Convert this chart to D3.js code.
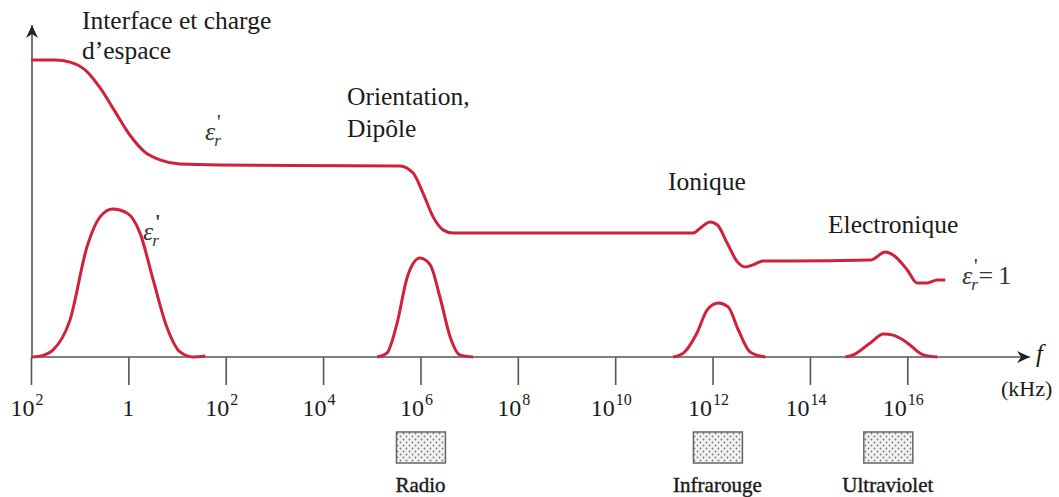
<!DOCTYPE html>
<html>
<head>
<meta charset="utf-8">
<script src="https://cdn.jsdelivr.net/npm/d3@7"></script>
<style>
  body { margin: 0; background: #fff; }
</style>
</head>
<body>
<div class="chart"></div>
<script>
// exponent of f (kHz) and relative height of the curves
var epsRealExp = [-2.0, -1.5, -1.2, -0.89, -0.58, -0.27, 0.03, 0.34, 0.65, 1.06, 1.88, 5.58, 5.85, 6.05, 6.26, 6.47, 6.67, 7.64,
  11.6, 11.75, 11.95, 12.1, 12.3, 12.51, 12.67, 12.83, 13.04, 13.6, 15.24, 15.55, 15.71, 16.0, 16.2, 16.41, 16.62, 16.78];
var epsRealVal = [9.9, 9.9, 9.83, 9.57, 8.97, 8.17, 7.4, 6.83, 6.57, 6.43, 6.4, 6.37, 6.13, 5.47, 4.67, 4.23, 4.13, 4.13,
  4.13, 4.3, 4.5, 4.4, 3.8, 3.17, 3.0, 3.07, 3.2, 3.2, 3.23, 3.5, 3.4, 2.9, 2.47, 2.47, 2.57, 2.57];

// epsilon'' : four separate loss peaks
var lossExp = [
  [-1.98, -1.81, -1.55, -1.2, -0.85, -0.58, -0.32, -0.03, 0.24, 0.51, 0.79, 1.06, 1.33, 1.58],
  [5.11, 5.31, 5.52, 5.73, 5.99, 6.2, 6.4, 6.61, 6.81, 7.08],
  [11.19, 11.4, 11.68, 11.89, 12.12, 12.32, 12.53, 12.77, 13.08],
  [14.73, 14.89, 15.24, 15.51, 15.71, 16.0, 16.33, 16.62]
];
var lossVal = [
  [0, 0.03, 0.23, 1.23, 3.67, 4.67, 4.93, 4.8, 4.13, 2.57, 1.0, 0.17, 0, 0.03],
  [0, 0.13, 1.13, 2.67, 3.3, 3.07, 2.0, 0.67, 0.07, 0],
  [0, 0.13, 0.8, 1.57, 1.8, 1.67, 0.9, 0.17, 0],
  [0, 0.07, 0.47, 0.77, 0.73, 0.47, 0.07, 0]
];

var tickExps = [-2, 0, 2, 4, 6, 8, 10, 12, 14, 16];
var tickBase = ["10", "1", "10", "10", "10", "10", "10", "10", "10", "10"];
var tickSup = ["2", "", "2", "4", "6", "8", "10", "12", "14", "16"];

var bandNames = ["Radio", "Infrarouge", "Ultraviolet"];
var bandExp = [6, 12.1, 15.6];

var svgWidth = 1059, svgHeight = 497;
var axisY = 357, axisX = 31;
var red = "#d0213b", axisCol = "#555", ink = "#1a1a1a";
var serif = "'Liberation Serif', 'Times New Roman', 'DejaVu Serif', serif";

var svg = d3.select(".chart").append("svg")
  .attr("width", svgWidth)
  .attr("height", svgHeight)
  .attr("font-family", serif)
  .style("font-family", serif);

var x = d3.scaleLinear().domain([-2, 18.5]).range([axisX, 1029]);
var y = d3.scaleLinear().domain([0, 10]).range([axisY, 57]);

// dotted fill for the band boxes
var defs = svg.append("defs");
var pat = defs.append("pattern")
  .attr("id", "dots")
  .attr("width", 6).attr("height", 6)
  .attr("patternUnits", "userSpaceOnUse");
pat.append("rect").attr("width", 6).attr("height", 6).attr("fill", "#f2f2f2");
pat.append("circle").attr("cx", 1.5).attr("cy", 1.5).attr("r", 0.9).attr("fill", "#777");
pat.append("circle").attr("cx", 4.5).attr("cy", 4.5).attr("r", 0.9).attr("fill", "#777");

defs.append("marker")
  .attr("id", "arrow")
  .attr("viewBox", "-14 -8 16 16")
  .attr("refX", 0).attr("refY", 0)
  .attr("markerWidth", 16).attr("markerHeight", 16)
  .attr("markerUnits", "userSpaceOnUse")
  .attr("orient", "auto")
  .append("path")
  .attr("d", "M-13,-6 L0,0 L-13,6 L-9,0 Z")
  .attr("fill", "#222");

// axes with arrows
svg.append("line")
  .attr("x1", axisX + 1).attr("y1", axisY).attr("x2", axisX + 1).attr("y2", 25)
  .attr("stroke", axisCol).attr("stroke-width", 1.6)
  .attr("marker-end", "url(#arrow)");
svg.append("line")
  .attr("x1", axisX).attr("y1", axisY).attr("x2", 1030).attr("y2", axisY)
  .attr("stroke", axisCol).attr("stroke-width", 1.6)
  .attr("marker-end", "url(#arrow)");

// ticks
var xAxis = d3.axisBottom(x).tickValues(tickExps).tickSize(28).tickFormat("");
var gx = svg.append("g").attr("transform", `translate(0,${axisY})`).call(xAxis);
gx.select(".domain").remove();
gx.selectAll(".tick line").attr("stroke", axisCol).attr("stroke-width", 1.6);

var labels = svg.append("g").selectAll("text")
  .data(tickExps)
  .enter()
  .append("text")
  .attr("x", (d, i) => x(d) + (tickSup[i] ? -4 : 0))
  .attr("y", 416)
  .attr("text-anchor", "middle")
  .attr("fill", ink)
  .attr("font-size", 24);
labels.append("tspan").text((d, i) => tickBase[i]);
labels.append("tspan")
  .attr("font-size", 16)
  .attr("dy", -11)
  .attr("dx", 1)
  .text((d, i) => tickSup[i]);

// curves
var line = d3.line()
  .x(d => x(d[0]))
  .y(d => y(d[1]))
  .curve(d3.curveMonotoneX);

svg.append("path")
  .datum(epsRealExp.map((e, i) => [e, epsRealVal[i]]))
  .attr("d", line)
  .attr("fill", "none")
  .attr("stroke", red)
  .attr("stroke-width", 3);

svg.selectAll(".loss")
  .data(lossExp.map((xs, k) => xs.map((e, i) => [e, lossVal[k][i]])))
  .enter()
  .append("path")
  .attr("class", "loss")
  .attr("d", line)
  .attr("fill", "none")
  .attr("stroke", red)
  .attr("stroke-width", 3);

// annotations
function addText(tx, ty, str, size) {
  svg.append("text").attr("x", tx).attr("y", ty)
    .attr("fill", ink)
    .attr("font-size", size || 25.5).text(str);
}
addText(82, 29, "Interface et charge");
addText(82, 59, "d\u2019espace");
addText(347, 105, "Orientation,");
addText(347, 137, "Dipôle");
addText(668, 190, "Ionique");
addText(828, 233, "Electronique");

function epsLabel(tx, ty, heavy, rest) {
  var t = svg.append("text").attr("x", tx).attr("y", ty)
    .attr("fill", "#333")
    .attr("font-size", 26).attr("font-style", "italic");
  t.append("tspan").text("\u03b5");
  t.append("tspan").attr("font-size", 17).attr("dy", 6).attr("dx", -1).text("r");
  t.append("tspan").attr("font-size", 20).attr("font-style", "normal")
    .attr("font-weight", heavy ? "bold" : "normal")
    .attr("dy", -17).attr("dx", -4).text("'");
  if (rest) {
    t.append("tspan").attr("font-style", "normal").attr("dy", 11).attr("dx", 1).text("=\u20091");
  }
}
epsLabel(205, 140, false);
epsLabel(143, 240, true);
epsLabel(962, 284, false, true);

svg.append("text").attr("x", 1036).attr("y", 362).attr("font-size", 25)
  .attr("fill", ink)
  .attr("font-style", "italic").text("f");
svg.append("text").attr("x", 1001).attr("y", 396).attr("font-size", 22)
  .attr("fill", ink).text("(kHz)");

// bands under the axis
var bands = svg.append("g").selectAll("g")
  .data(bandNames)
  .enter()
  .append("g");
bands.append("rect")
  .attr("x", (d, i) => x(bandExp[i]) - 24)
  .attr("y", 432)
  .attr("width", 49)
  .attr("height", 31)
  .attr("fill", "url(#dots)")
  .attr("stroke", "#666")
  .attr("stroke-width", 1.5);
bands.append("text")
  .attr("x", (d, i) => x(bandExp[i]))
  .attr("y", 492)
  .attr("text-anchor", "middle")
  .attr("font-size", 21)
  .attr("fill", ink)
  .attr("stroke", ink)
  .attr("stroke-width", 0.4)
  .text(d => d);
</script>
</body>
</html>
